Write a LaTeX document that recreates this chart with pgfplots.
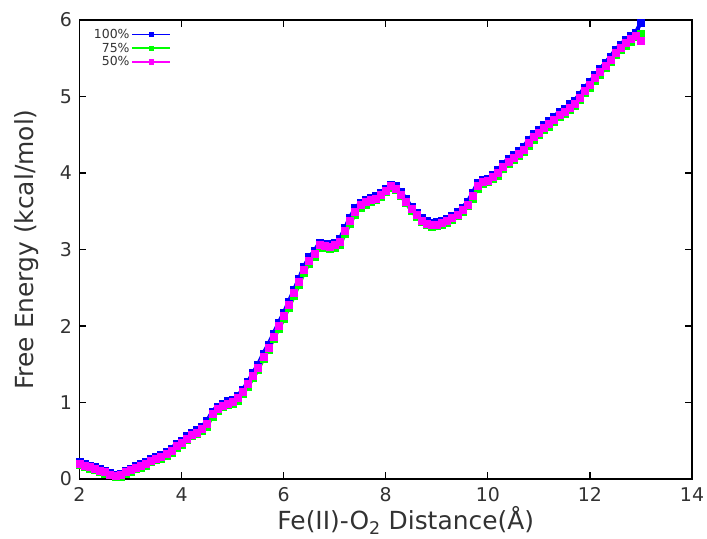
\documentclass[border=0pt]{standalone}
\usepackage{fontspec}
\setmainfont{DejaVu Sans}
\usepackage{pgfplots}
\usepackage{pgfplotstable}
\pgfplotsset{compat=1.18}
\definecolor{cblue}{RGB}{0,0,255}
\definecolor{cgreen}{RGB}{0,255,0}
\definecolor{cmag}{RGB}{255,0,255}
\definecolor{ctext}{RGB}{50,50,50}
\pgfplotstableread{
x m b g
2.0 0.20 0.22 0.19
2.1 0.18 0.20 0.16
2.2 0.16 0.18 0.14
2.3 0.14 0.16 0.12
2.4 0.11 0.13 0.10
2.5 0.09 0.11 0.07
2.6 0.06 0.08 0.05
2.7 0.04 0.06 0.03
2.8 0.05 0.07 0.03
2.9 0.09 0.11 0.07
3.0 0.12 0.14 0.10
3.1 0.15 0.17 0.13
3.2 0.17 0.20 0.15
3.3 0.20 0.23 0.18
3.4 0.24 0.26 0.22
3.5 0.27 0.29 0.25
3.6 0.29 0.32 0.27
3.7 0.33 0.36 0.31
3.8 0.37 0.40 0.35
3.9 0.43 0.46 0.41
4.0 0.47 0.50 0.45
4.1 0.53 0.56 0.51
4.2 0.58 0.61 0.56
4.3 0.61 0.64 0.59
4.4 0.66 0.69 0.63
4.5 0.72 0.76 0.69
4.6 0.85 0.88 0.82
4.7 0.92 0.95 0.89
4.8 0.96 0.99 0.94
4.9 0.99 1.02 0.97
5.0 1.01 1.04 0.99
5.1 1.06 1.09 1.03
5.2 1.14 1.17 1.11
5.3 1.24 1.27 1.21
5.4 1.35 1.39 1.32
5.5 1.46 1.50 1.43
5.6 1.60 1.64 1.57
5.7 1.72 1.76 1.69
5.8 1.86 1.90 1.83
5.9 2.00 2.04 1.96
6.0 2.13 2.17 2.09
6.1 2.28 2.32 2.24
6.2 2.43 2.47 2.39
6.3 2.58 2.62 2.54
6.4 2.74 2.78 2.70
6.5 2.86 2.90 2.82
6.6 2.94 2.98 2.91
6.7 3.06 3.09 3.02
6.8 3.05 3.08 3.02
6.9 3.04 3.07 3.01
7.0 3.06 3.09 3.03
7.1 3.10 3.14 3.06
7.2 3.24 3.28 3.20
7.3 3.38 3.42 3.34
7.4 3.50 3.54 3.46
7.5 3.58 3.61 3.55
7.6 3.62 3.65 3.59
7.7 3.65 3.68 3.62
7.8 3.67 3.70 3.65
7.9 3.71 3.74 3.69
8.0 3.77 3.80 3.75
8.1 3.83 3.85 3.81
8.2 3.80 3.83 3.78
8.3 3.72 3.75 3.70
8.4 3.63 3.66 3.61
8.5 3.53 3.56 3.51
8.6 3.45 3.48 3.43
8.7 3.38 3.41 3.36
8.8 3.34 3.37 3.32
8.9 3.32 3.35 3.30
9.0 3.33 3.36 3.31
9.1 3.35 3.38 3.33
9.2 3.37 3.40 3.35
9.3 3.41 3.44 3.39
9.4 3.46 3.49 3.44
9.5 3.52 3.55 3.50
9.6 3.59 3.62 3.57
9.7 3.70 3.74 3.67
9.8 3.83 3.87 3.80
9.9 3.88 3.91 3.86
10.0 3.90 3.93 3.88
10.1 3.95 3.98 3.93
10.2 4.00 4.04 3.97
10.3 4.08 4.12 4.05
10.4 4.15 4.19 4.12
10.5 4.20 4.24 4.17
10.6 4.25 4.29 4.22
10.7 4.31 4.35 4.28
10.8 4.39 4.43 4.36
10.9 4.47 4.51 4.44
11.0 4.53 4.57 4.50
11.1 4.59 4.63 4.56
11.2 4.64 4.68 4.61
11.3 4.70 4.74 4.67
11.4 4.76 4.80 4.73
11.5 4.80 4.84 4.77
11.6 4.86 4.90 4.83
11.7 4.91 4.95 4.88
11.8 4.99 5.03 4.96
11.9 5.08 5.12 5.05
12.0 5.15 5.19 5.12
12.1 5.24 5.28 5.21
12.2 5.32 5.36 5.29
12.3 5.40 5.44 5.37
12.4 5.48 5.52 5.45
12.5 5.57 5.61 5.54
12.6 5.64 5.68 5.61
12.7 5.70 5.74 5.67
12.8 5.75 5.79 5.72
12.9 5.80 5.84 5.78
13.0 5.73 5.97 5.82
}\fe
\begin{document}
\begin{tikzpicture}
\begin{axis}[
  scale only axis, width=612.5bp, height=459bp,
  xmin=2, xmax=14, ymin=0, ymax=6,
  xtick={2,4,...,14}, ytick={0,1,...,6},
  tick align=inside, major tick length=7bp,
  axis line style={line width=1.5bp},
  every tick/.style={line width=1.2bp, black},
  tick label style={font=\fontsize{19}{19}\selectfont, text=ctext},
  xticklabel style={yshift=-5bp},
  yticklabel style={xshift=-4bp},
  /pgf/number format/assume math mode=true,
  label style={font=\fontsize{25}{25}\selectfont, text=ctext},
  xlabel={Fe(II)-O\textsubscript{2} Distance(Å)},
  ylabel={Free Energy (kcal/mol)},
  xlabel style={xshift=20bp, yshift=2bp},
  ylabel style={yshift=14bp},
  legend plot pos=right,
  legend cell align=right,
  legend style={at={(axis description cs:0.02,0.985)}, anchor=north west,
    draw=none, fill=none, font=\fontsize{12.5}{12.5}\selectfont, text=ctext,
    row sep=-1bp, inner sep=0pt},
  legend image code/.code={\draw[#1, line width=1.5bp, mark size=2.2bp, mark repeat=2, mark phase=2] plot coordinates {(0bp,0bp) (19bp,0bp) (38bp,0bp)};},
]
\addplot[cblue, line width=4bp, mark=square*, mark size=3.5bp, mark options={line width=0.4bp}] table[x=x,y=b]{\fe};
\addlegendentry{100\%}
\addplot[cgreen, line width=4bp, mark=square*, mark size=3.5bp, mark options={line width=0.4bp}] table[x=x,y=g]{\fe};
\addlegendentry{75\%}
\addplot[cmag, line width=4bp, mark=square*, mark size=3.5bp, mark options={line width=0.4bp}] table[x=x,y=m]{\fe};
\addlegendentry{50\%}
\end{axis}
\pgfresetboundingbox
\path[use as bounding box] ([xshift=-79.5bp,yshift=-60bp]current axis.south west) rectangle ([xshift=15bp,yshift=20bp]current axis.north east);
\end{tikzpicture}
\end{document}
